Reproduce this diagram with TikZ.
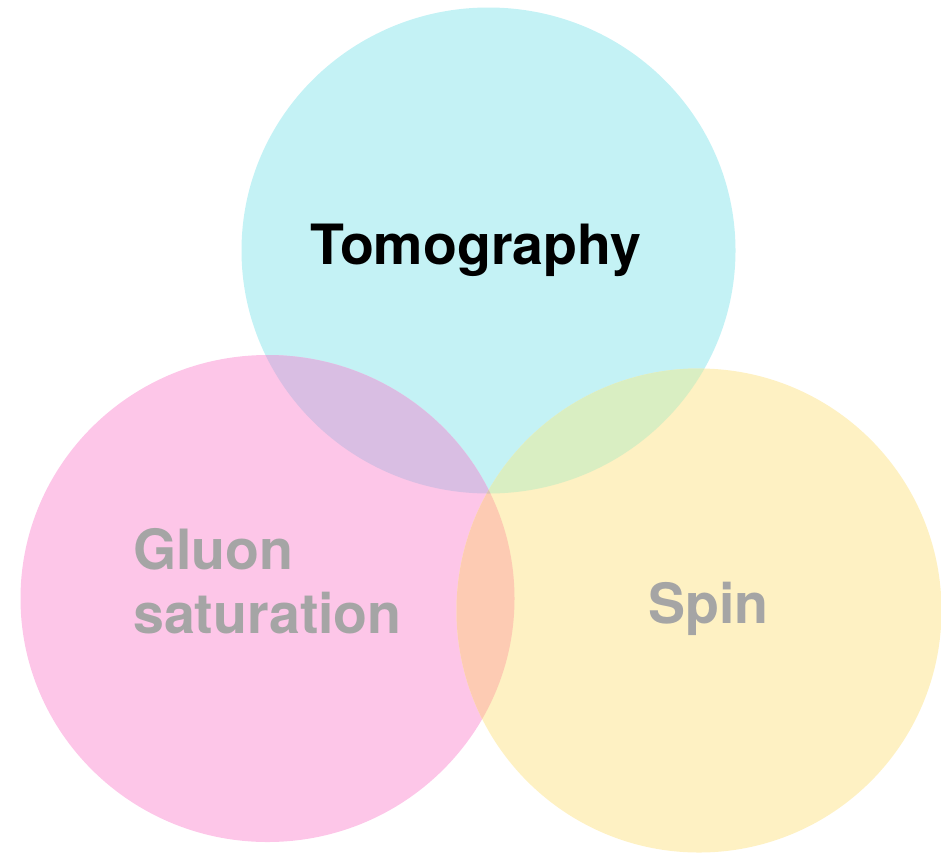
\documentclass[tikz,border=0pt]{standalone}
\usepackage{fontspec}
\setmainfont{TeX Gyre Heros}
\definecolor{cyanc}{HTML}{C4F2F5}
\definecolor{pinkc}{HTML}{FDC6E8}
\definecolor{yellowc}{HTML}{FEF1C3}
\definecolor{purplec}{HTML}{D9BEE3}
\definecolor{greenc}{HTML}{D9EEC2}
\definecolor{peachc}{HTML}{FDCBB3}
\definecolor{triplec}{HTML}{D8C2B8}
\definecolor{labelgray}{HTML}{A5A5A5}
\tikzset{
  lbl/.style={anchor=base west, inner sep=0pt, font=\fontsize{55.5}{65}\selectfont\bfseries},
}
\begin{document}
\begin{tikzpicture}[x=1pt,y=-1pt]
\useasboundingbox (0,0) rectangle (941,854);
\def\cyanpath{(488.5,250.5) ellipse[x radius=247, y radius=243]}
\def\pinkpath{(267.5,598.5) ellipse[x radius=247, y radius=243.5]}
\def\yellowpath{(699,610.5) ellipse[x radius=242.5, y radius=242]}
\fill[cyanc] \cyanpath;
\fill[pinkc] \pinkpath;
\fill[yellowc] \yellowpath;
\begin{scope}
  \clip \cyanpath;
  \fill[purplec] \pinkpath;
  \fill[greenc] \yellowpath;
\end{scope}
\begin{scope}
  \clip \pinkpath;
  \fill[peachc] \yellowpath;
  \clip \cyanpath;
  \fill[triplec] \yellowpath;
\end{scope}
\node[lbl, text=black] (tomo) at (310,264) {Tomography};
\node[lbl, text=labelgray] (gluon) at (133,569) {Gluon};
\node[lbl, text=labelgray] (sat) at (133,633) {saturation};
\node[lbl, text=labelgray] (spin) at (648,623) {Spin};
\end{tikzpicture}
\end{document}
